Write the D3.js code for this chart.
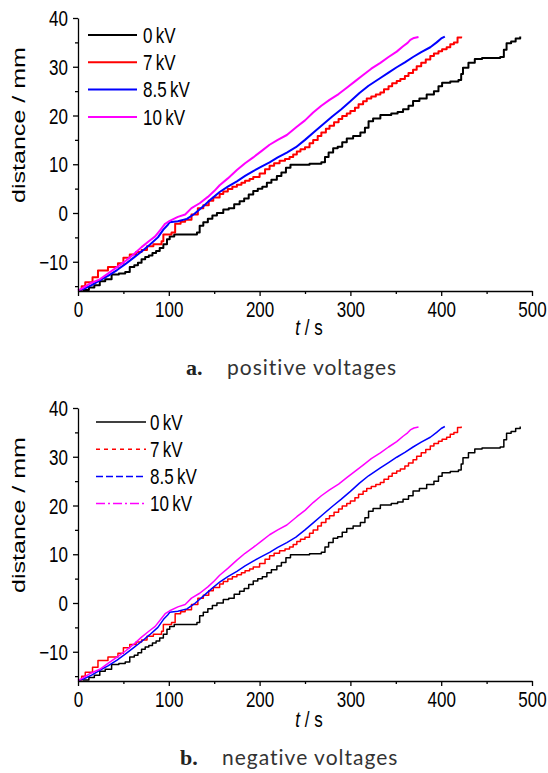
<!DOCTYPE html>
<html>
<head>
<meta charset="utf-8">
<script src="https://cdn.jsdelivr.net/npm/d3@7"></script>
<style>
  body { margin: 0; background: #fff; }
  svg { display: block; }
</style>
</head>
<body>
<script>
// values: [t in s, distance in mm]
const series0kV = [[5,-15.8],[12,-15.3],[18,-14.8],[24,-14.0],[30,-13.6],[37,-12.6],[45,-12.4],[52,-12.1],[57,-11.1],[62,-10.7],[66,-10.2],[70,-9.5],[74,-9.0],[78,-8.7],[82,-8.2],[86,-7.8],[90,-7.2],[94,-6.4],[98,-5.4],[101,-4.8],[106,-4.4],[131,-4.0],[134,-2.6],[138,-1.9],[143,-1.2],[148,-0.5],[153,0],[160,0.7],[166,1.0],[172,1.8],[178,2.4],[183,3.0],[188,3.8],[193,4.5],[198,5.0],[203,5.4],[208,6.2],[213,6.8],[219,7.6],[224,8.3],[229,9.3],[234,9.9],[255,10.1],[268,10.4],[272,11.5],[276,12.4],[281,13.3],[286,13.6],[291,14.5],[296,15.3],[303,15.8],[311,16.5],[316,17.5],[320,18.8],[325,19.4],[333,20.1],[345,20.4],[352,20.7],[358,21.3],[364,22.0],[369,23.0],[376,23.5],[384,24.3],[392,25.0],[397,26.0],[401,26.7],[410,27.0],[419,27.3],[422,28.5],[424,29.8],[430,30.8],[437,31.6],[445,31.8],[465,32.0],[469,33.5],[472,34.8],[477,35.2],[482,35.8],[487,36.2]];
const series7kV = [[0,-15.8],[4,-15.0],[8,-14.2],[16,-13.2],[22,-11.8],[33,-11.1],[44,-10.3],[50,-9.2],[57,-8.5],[64,-8.0],[70,-7.6],[76,-6.8],[83,-6.4],[92,-5.8],[94,-4.4],[103,-4.0],[107,-2.2],[113,-1.8],[118,-1.4],[125,-0.3],[132,1.0],[138,1.6],[144,2.5],[149,3.2],[156,3.9],[160,4.4],[165,4.9],[170,5.4],[175,5.8],[180,6.2],[184,6.6],[189,7.0],[193,7.4],[200,8.1],[206,9.0],[211,9.7],[216,10.2],[222,10.7],[228,11.1],[233,11.5],[237,12.0],[241,12.6],[245,13.1],[250,13.5],[255,14.3],[259,15.0],[264,15.8],[268,16.5],[273,17.3],[277,17.9],[282,18.6],[287,19.3],[291,19.9],[296,20.4],[300,20.9],[305,21.6],[309,22.3],[314,22.9],[318,23.5],[323,23.9],[328,24.3],[333,24.7],[337,25.4],[342,26.0],[346,26.6],[351,27.1],[355,27.5],[360,28.1],[364,28.7],[369,29.4],[373,30.1],[378,30.8],[383,31.5],[388,32.2],[392,32.7],[397,33.2],[401,33.6],[406,34.0],[410,34.6],[414,35.0],[418,36.0],[422,36.2]];
const series85kV = [[0,-15.9],[6,-15.6],[15,-14.8],[24,-13.8],[33,-12.9],[43,-11.7],[52,-10.5],[61,-9.2],[70,-7.9],[79,-6.5],[88,-5.0],[94,-3.4],[99,-2.4],[101,-1.9],[110,-1.7],[120,-1.2],[128,-0.2],[138,1.4],[147,2.9],[156,4.3],[165,5.4],[175,6.5],[184,7.6],[193,8.6],[202,9.5],[211,10.4],[220,11.4],[230,12.4],[240,13.5],[250,15.0],[260,16.6],[270,18.2],[280,19.8],[290,21.3],[300,22.9],[310,24.6],[320,26.1],[333,27.7],[342,28.8],[351,29.9],[360,30.9],[369,32.0],[378,33.0],[388,34.0],[395,35.0],[400,35.8],[404,36.2]];
const series10kV = [[0,-15.9],[5,-15.4],[14,-14.4],[24,-13.6],[33,-12.4],[43,-11.1],[52,-9.9],[61,-8.5],[70,-7.0],[78,-5.8],[85,-4.8],[91,-3.4],[96,-2.2],[101,-1.6],[110,-0.8],[118,-0.3],[125,1.0],[134,2.0],[143,3.3],[150,4.5],[156,5.7],[165,7.1],[175,8.8],[184,10.2],[193,11.4],[202,12.7],[211,14.0],[220,15.0],[230,16.0],[241,17.7],[250,19.0],[259,20.6],[268,22.0],[277,23.2],[287,24.4],[296,25.7],[305,27.0],[314,28.3],[323,29.6],[333,30.8],[342,32.0],[351,33.1],[358,34.2],[363,34.9],[366,35.5],[370,35.9],[375,36.1]];

const legendLabels = ["0\u2009kV", "7\u2009kV", "8.5\u2009kV", "10\u2009kV"];
const xTicks = [0, 100, 200, 300, 400, 500];
const xMinor = [50, 150, 250, 350, 450];
const yTicks = [-10, 0, 10, 20, 30, 40];
const yMinor = [-15, -5, 5, 15, 25, 35];
const captions = [["a.", "positive voltages"], ["b.", "negative voltages"]];

const allSeries = [series0kV, series7kV, series85kV, series10kV];
const colors = ["#000000", "#ff0000", "#0000ff", "#ff00ff"];
const curves = [d3.curveStepAfter, d3.curveStepAfter, d3.curveLinear, d3.curveLinear];

const W = 548, H = 773;
const FONT = "'Liberation Sans', Arial, sans-serif";
const STRETCH = "scale(1,1.25)";   // original figure was stretched vertically

const svg = d3.select("body").append("svg")
    .attr("width", W)
    .attr("height", H);

const panels = [
    {top: 18, bottom: 291, lineW: 2, dashes: [null, null, null, null],
     legX: 88, legLen: 49, legTextX: 143, legY: 35, legStep: 27.3, xLabelY: 335, capY: 375,
     capA: 186, capB: 227},
    {top: 408, bottom: 681, lineW: 1.5, dashes: [null, "4,4", "7,3", "9,3,2,3"],
     legX: 96, legLen: 50, legTextX: 150, legY: 422, legStep: 27.2, xLabelY: 727, capY: 765,
     capA: 180, capB: 222}
];

panels.forEach((p, pi) => {
    const x = d3.scaleLinear().domain([0, 500]).range([78, 532]);
    const y = d3.scaleLinear().domain([-16, 40]).range([p.bottom, p.top]);
    const g = svg.append("g");

    // series
    allSeries.forEach((s, i) => {
        const line = d3.line().x(d => x(d[0])).y(d => y(d[1])).curve(curves[i]);
        g.append("path")
            .attr("d", line(s))
            .attr("fill", "none")
            .attr("stroke", colors[i])
            .attr("stroke-width", p.lineW)
            .attr("stroke-linejoin", "round");
    });

    // axes
    const xAxis = g.append("g").attr("transform", `translate(0,${p.bottom})`)
        .call(d3.axisBottom(x).tickValues(xTicks).tickSize(5).tickSizeOuter(0));
    g.append("g").attr("transform", `translate(0,${p.bottom})`)
        .call(d3.axisBottom(x).tickValues(xMinor).tickSize(3).tickFormat("").tickSizeOuter(0))
        .select(".domain").remove();
    const yAxis = g.append("g").attr("transform", "translate(78,0)")
        .call(d3.axisLeft(y).tickValues(yTicks).tickSize(5).tickSizeOuter(0));
    g.append("g").attr("transform", "translate(78,0)")
        .call(d3.axisLeft(y).tickValues(yMinor).tickSize(3).tickFormat("").tickSizeOuter(0))
        .select(".domain").remove();

    g.selectAll(".domain, .tick line").attr("stroke", "#000").attr("stroke-width", 1.3);

    xAxis.selectAll("text")
        .attr("y", null).attr("dy", null)
        .attr("transform", "translate(0,26) " + STRETCH)
        .attr("font-family", FONT).attr("font-size", 17).attr("fill", "#000");
    yAxis.selectAll("text")
        .attr("x", null)
        .attr("transform", "translate(-10,0) " + STRETCH)
        .attr("dy", "0.36em")
        .attr("font-family", FONT).attr("font-size", 17).attr("fill", "#000");

    // axis titles
    const xt = g.append("text")
        .attr("transform", `translate(309,${p.xLabelY}) ${STRETCH}`)
        .attr("text-anchor", "middle")
        .attr("font-family", FONT).attr("font-size", 17);
    xt.append("tspan").attr("font-style", "italic").text("t");
    xt.append("tspan").text(" / s");

    g.append("text")
        .attr("transform", `translate(25,${p.top + 107}) rotate(-90)`)
        .attr("text-anchor", "middle")
        .attr("font-family", FONT).attr("font-size", 18)
        .attr("textLength", 156).attr("lengthAdjust", "spacingAndGlyphs")
        .text("distance / mm");

    // legend
    legendLabels.forEach((lab, i) => {
        const ly = p.legY + i * p.legStep;
        g.append("line")
            .attr("x1", p.legX).attr("x2", p.legX + p.legLen)
            .attr("y1", ly).attr("y2", ly)
            .attr("stroke", colors[i])
            .attr("stroke-width", p.lineW)
            .attr("stroke-dasharray", p.dashes[i]);
        g.append("text")
            .attr("transform", `translate(${p.legTextX},${ly + 7.6}) ${STRETCH}`)
            .attr("font-family", FONT).attr("font-size", 17)
            .text(lab);
    });

    // caption
    g.append("text")
        .attr("x", p.capA).attr("y", p.capY)
        .attr("font-family", "'Liberation Serif', 'DejaVu Serif', serif")
        .attr("font-weight", "bold").attr("font-size", 22)
        .attr("fill", "#222")
        .text(captions[pi][0]);
    g.append("text")
        .attr("x", p.capB).attr("y", p.capY)
        .attr("font-family", "Lato, 'Open Sans', sans-serif")
        .attr("font-size", 21)
        .attr("fill", "#333")
        .attr("letter-spacing", 1)
        .text(captions[pi][1]);
});
</script>
</body>
</html>
